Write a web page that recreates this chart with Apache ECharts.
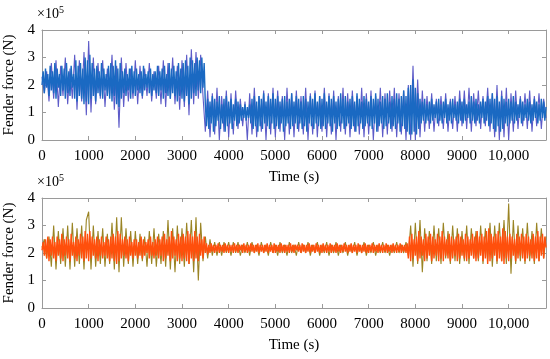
<!DOCTYPE html>
<html>
<head>
<meta charset="utf-8">
<script src="https://cdn.jsdelivr.net/npm/echarts@6/dist/echarts.min.js"></script>
<style>html,body{margin:0;padding:0;background:#fff}#c{width:550px;height:359px}</style>
</head>
<body>
<div id="c"></div>
<script>
// outer (peak) traces sampled every 50 s, inner (core) traces every 25 s; values in units of 1e5 N
const outerStep = 50;
const innerStep = 25;
const xTicks = [0,1000,2000,3000,4000,5000,6000,7000,8000,9000,10000];
const yTicks = [0,1,2,3,4];

const topOuter = [
2.3,1.7,2.5,1.4,2.8,1.5,2.9,1.2,2.7,1.6,3.0,1.3,2.6,1.5,3.1,1.1,2.9,1.4,3.2,0.9,
3.6,1.0,3.0,1.3,2.8,1.5,2.9,1.2,2.6,1.6,3.1,1.1,2.7,0.45,3.0,1.2,2.8,1.4,2.6,1.5,
2.9,1.3,2.7,1.5,2.6,1.6,2.8,1.4,2.5,1.5,2.7,1.3,2.9,1.2,2.8,1.5,3.0,1.3,2.7,1.1,
2.9,1.2,3.1,0.9,3.3,1.3,3.2,1.5,3.1,1.6,
0.3,1.8,0.1,1.7,0.2,1.9,0.0,1.6,0.3,1.8,
0.1,1.7,0.2,1.8,0.4,1.5,0.5,1.4,0.0,1.7,0.2,1.9,0.1,1.6,0.3,1.8,0.0,1.7,0.2,1.9,
0.1,1.8,0.3,1.6,0.0,1.9,0.2,1.7,0.1,1.8,0.3,1.6,0.2,1.9,0.0,1.7,0.2,1.8,0.1,1.6,
0.3,1.9,0.1,1.7,0.2,1.8,0.0,1.6,0.3,1.9,0.2,1.7,0.1,1.8,0.3,1.6,0.2,1.9,0.1,1.7,
0.2,1.8,0.0,1.6,0.3,1.9,0.1,1.7,0.2,1.8,0.3,1.9,0.1,1.7,0.2,1.8,0.0,2.0,0.0,2.7,
0.0,2.2,0.1,1.8,0.3,1.6,0.4,1.7,0.3,1.5,0.5,1.6,0.4,1.7,0.3,1.5,0.4,1.6,0.3,1.8,
0.5,1.8,0.4,1.9,0.3,1.7,0.5,1.8,0.4,1.6,0.5,1.9,0.3,1.7,0.1,2.0,0.0,1.8,0.1,1.9,
0.0,1.7,0.3,1.8,0.4,1.6,0.5,1.7,0.4,1.8,0.3,1.6,0.5,1.7,0.4,1.5,0.8
];
const topInner = [
2.0,2.5,1.7,2.6,1.9,2.4,1.6,2.7,1.8,2.5,1.7,2.8,1.5,2.6,1.9,2.4,1.6,2.7,1.8,2.6,
1.5,2.8,1.7,2.5,1.6,2.7,1.9,2.4,1.5,2.9,1.4,2.7,1.6,2.8,1.5,2.6,1.3,3.0,1.4,2.9,
1.3,3.1,1.5,2.8,1.6,2.6,1.4,2.7,1.7,2.5,1.6,2.8,1.5,2.6,1.8,2.4,1.6,2.7,1.5,2.8,
1.4,2.7,1.6,2.9,1.3,2.6,1.2,2.8,1.5,2.5,1.7,2.6,1.6,2.4,1.8,2.6,1.5,2.7,1.7,2.5,
1.6,2.6,1.8,2.4,1.7,2.5,1.6,2.7,1.8,2.4,1.9,2.5,1.7,2.6,1.6,2.4,1.8,2.5,1.7,2.7,
1.6,2.5,1.8,2.6,1.5,2.7,1.7,2.4,1.6,2.8,1.5,2.6,1.7,2.7,1.6,2.5,1.4,2.8,1.6,2.6,
1.5,2.8,1.4,2.9,1.6,2.7,1.3,3.0,1.5,2.9,1.7,2.8,1.6,3.0,1.8,2.9,1.7,3.0,1.9,2.8,
1.3,0.5,1.5,0.4,1.4,0.6,1.6,0.3,1.5,0.5,1.4,0.7,1.6,0.4,1.3,0.6,1.5,0.3,1.6,0.5,
1.4,0.6,1.5,0.4,1.3,0.7,1.5,0.5,1.4,0.6,1.3,0.7,1.2,0.8,1.3,0.7,1.2,0.8,1.3,0.6,
1.5,0.4,1.6,0.5,1.4,0.3,1.6,0.5,1.5,0.4,1.7,0.6,1.4,0.5,1.6,0.4,1.5,0.6,1.7,0.4,
1.5,0.5,1.6,0.4,1.4,0.6,1.5,0.3,1.6,0.5,1.4,0.6,1.5,0.4,1.7,0.5,1.4,0.6,1.6,0.4,
1.5,0.6,1.4,0.4,1.6,0.5,1.5,0.3,1.4,0.6,1.6,0.5,1.5,0.4,1.7,0.6,1.4,0.5,1.6,0.4,
1.5,0.5,1.7,0.4,1.4,0.6,1.6,0.5,1.5,0.3,1.6,0.6,1.4,0.4,1.5,0.5,1.7,0.6,1.5,0.4,
1.6,0.5,1.4,0.6,1.5,0.4,1.6,0.5,1.4,0.3,1.7,0.5,1.5,0.6,1.4,0.4,1.6,0.5,1.5,0.6,
1.4,0.5,1.6,0.4,1.5,0.6,1.7,0.3,1.5,0.5,1.4,0.6,1.6,0.4,1.5,0.5,1.7,0.6,1.4,0.4,
1.6,0.5,1.5,0.4,1.7,0.6,1.5,0.3,1.6,0.5,1.8,0.4,1.6,0.3,1.9,0.2,2.0,0.2,2.2,0.3,
1.9,0.2,1.7,0.4,1.5,0.6,1.4,0.7,1.5,0.6,1.3,0.7,1.4,0.6,1.5,0.7,1.3,0.8,1.4,0.6,
1.5,0.7,1.3,0.6,1.4,0.8,1.5,0.6,1.3,0.7,1.4,0.6,1.5,0.8,1.3,0.7,1.4,0.6,1.5,0.7,
1.4,0.6,1.5,0.7,1.3,0.8,1.4,0.6,1.6,0.7,1.4,0.6,1.5,0.7,1.3,0.6,1.4,0.8,1.5,0.6,
1.4,0.7,1.6,0.5,1.5,0.6,1.7,0.4,1.5,0.3,1.6,0.5,1.4,0.3,1.6,0.4,1.5,0.6,1.4,0.5,
1.5,0.6,1.4,0.7,1.6,0.6,1.4,0.7,1.3,0.8,1.5,0.6,1.4,0.7,1.3,0.8,1.5,0.7,1.4,0.6,
1.3,0.7,1.5,0.8,1.4,0.6,1.3,0.7,1.5,0.8,1.4,0.7,1.2
];
const bottomOuter = [
2.2,2.5,1.8,2.6,1.5,3.0,1.4,2.8,1.6,2.9,1.5,3.0,1.4,3.1,1.5,2.9,1.6,3.0,1.4,3.2,
3.5,1.4,3.0,1.5,2.8,1.6,2.9,1.5,2.7,1.6,3.1,1.4,3.3,1.3,3.3,1.5,2.9,1.6,2.8,1.5,
2.8,1.6,2.7,1.7,2.6,1.5,2.8,1.6,2.9,1.5,2.7,1.6,2.8,1.5,3.2,1.4,2.9,1.3,3.0,1.6,
2.9,1.5,3.1,1.6,3.2,1.3,3.3,1.0,3.1,1.7,
2.6,1.8,2.5,1.9,2.4,1.9,2.4,1.9,2.4,2.0,
2.4,1.9,2.4,2.0,2.4,1.9,2.3,2.0,2.4,1.9,2.4,2.0,2.3,1.9,2.4,2.0,2.3,1.9,2.4,2.0,
2.3,1.9,2.4,2.0,2.3,1.9,2.4,2.0,2.3,1.9,2.4,2.0,2.3,2.0,2.4,1.9,2.3,2.0,2.4,1.9,
2.3,2.0,2.4,1.9,2.3,2.0,2.4,1.9,2.3,2.0,2.4,1.9,2.3,2.0,2.4,1.9,2.3,2.0,2.4,1.9,
2.3,2.0,2.4,1.9,2.3,2.0,2.4,2.0,2.3,1.9,2.3,2.0,2.4,2.0,2.3,2.0,2.4,1.9,3.0,1.5,
3.1,1.6,3.2,1.3,2.9,1.7,2.8,1.6,3.0,1.7,2.9,1.6,3.1,1.8,2.8,1.6,3.0,1.7,2.9,1.6,
2.8,1.7,3.0,1.6,2.9,1.8,2.8,1.7,3.0,1.6,2.9,1.7,3.1,1.5,3.0,1.6,3.1,1.7,3.2,1.6,
3.8,1.25,3.2,1.6,3.0,1.7,2.9,1.6,3.1,1.7,2.8,1.6,3.1,1.7,2.9,1.8,2.6
];
const bottomInner = [
2.1,2.4,1.9,2.5,1.8,2.6,1.7,2.5,1.9,2.6,1.8,2.4,1.7,2.6,1.9,2.5,1.8,2.7,1.7,2.5,
1.9,2.6,1.8,2.5,1.7,2.7,1.9,2.4,1.8,2.6,1.7,2.5,1.9,2.7,1.8,2.6,1.7,2.8,1.8,2.7,
1.7,2.8,1.8,2.6,1.9,2.5,1.8,2.6,1.7,2.5,1.9,2.6,1.8,2.4,1.9,2.6,1.8,2.5,1.7,2.6,
1.8,2.7,1.7,2.6,1.6,2.8,1.7,2.7,1.8,2.5,1.9,2.6,1.8,2.5,1.7,2.6,1.9,2.4,1.8,2.5,
1.9,2.5,1.8,2.4,1.9,2.6,1.8,2.5,1.9,2.4,2.0,2.5,1.8,2.6,1.9,2.4,1.8,2.5,1.9,2.6,
1.8,2.5,1.9,2.6,1.7,2.7,1.8,2.5,1.9,2.6,1.7,2.8,1.8,2.6,1.9,2.5,1.7,2.7,1.8,2.6,
1.7,2.7,1.8,2.6,1.7,2.8,1.6,2.7,1.8,2.6,1.7,2.8,1.8,2.6,1.7,2.7,1.9,2.5,1.8,2.6,
2.0,2.35,1.95,2.3,2.0,2.35,2.05,2.3,2.0,2.3,2.05,2.35,2.0,2.3,2.05,2.3,2.0,2.35,2.05,2.3,
2.0,2.3,2.05,2.3,2.0,2.35,2.05,2.3,2.0,2.3,2.1,2.3,2.0,2.35,2.05,2.3,2.0,2.3,2.05,2.35,
2.05,2.3,2.0,2.3,2.05,2.35,2.0,2.3,2.05,2.3,2.0,2.3,2.05,2.35,2.0,2.3,2.05,2.3,2.0,2.35,
2.0,2.3,2.05,2.3,2.0,2.35,2.05,2.3,2.0,2.3,2.05,2.3,2.0,2.35,2.05,2.3,2.0,2.3,2.1,2.3,
2.05,2.3,2.0,2.35,2.05,2.3,2.0,2.3,2.05,2.35,2.0,2.3,2.05,2.3,2.0,2.35,2.05,2.3,2.0,2.3,
2.0,2.35,2.05,2.3,2.0,2.3,2.05,2.35,2.0,2.3,2.05,2.3,2.0,2.35,2.05,2.3,2.0,2.3,2.05,2.35,
2.05,2.3,2.0,2.3,2.05,2.35,2.0,2.3,2.05,2.3,2.0,2.35,2.05,2.3,2.0,2.3,2.05,2.35,2.0,2.3,
2.0,2.3,2.05,2.35,2.0,2.3,2.05,2.3,2.0,2.35,2.05,2.3,2.0,2.3,2.05,2.35,2.0,2.3,2.05,2.3,
2.0,2.35,2.05,2.3,2.0,2.3,2.05,2.35,2.0,2.3,2.05,2.3,2.0,2.35,
1.8,2.6,1.7,2.7,1.8,2.5,1.9,2.6,1.7,2.8,1.8,2.6,1.9,2.5,1.7,2.7,1.8,2.6,1.9,2.7,
1.7,2.6,1.8,2.5,1.9,2.7,1.7,2.6,1.8,2.8,1.7,2.6,1.9,2.5,1.8,2.7,1.7,2.6,1.8,2.5,
1.9,2.6,1.7,2.7,1.8,2.6,1.9,2.5,1.8,2.7,1.7,2.6,1.8,2.5,1.9,2.7,1.8,2.6,1.7,2.8,
1.8,2.6,1.9,2.7,1.7,2.6,1.8,2.8,1.6,2.9,1.7,2.7,1.8,2.6,1.9,2.7,1.7,2.8,1.8,2.6,
1.7,2.9,1.6,2.8,1.8,2.6,1.7,2.7,1.8,2.6,1.9,2.5,1.7,2.7,1.8,2.6,1.9,2.7,1.8,2.6,
1.7,2.7,1.8,2.6,1.9,2.5,1.8,2.7,1.7,2.6,1.8,2.8,1.7,2.6,1.9,2.7,1.8,2.6,2.2
];

function pairs(arr, step){ return arr.map((v,i)=>[i*step, v]); }

const FONT = '"Liberation Serif","Times New Roman",serif';
const axisGray = '#9a9a9a';
const xMax = 10800;

function fmtX(v){
  if (xTicks.indexOf(v) < 0) return '';
  return v >= 10000 ? String(v).replace(/\B(?=(\d{3})+(?!\d))/g, ',') : String(v);
}

function makeX(gi, top){
  return {
    type:'value', gridIndex:gi, min:0, max:xMax, interval:1000,
    position: top ? 'top' : 'bottom',
    name: top ? '' : 'Time (s)', nameLocation:'middle', nameGap:30,
    nameTextStyle:{fontFamily:FONT, fontSize:15, color:'#000'},
    axisLine:{show:true, onZero:false, lineStyle:{color:axisGray, width:1}},
    axisTick:{show:true, inside:true, length:4, lineStyle:{color:axisGray}},
    axisLabel:{show:!top, fontFamily:FONT, fontSize:15, color:'#000', margin:9, showMaxLabel:false, formatter:fmtX},
    splitLine:{show:false}
  };
}
function makeY(gi, right){
  return {
    type:'value', gridIndex:gi, min:0, max:4, interval:1,
    position: right ? 'right' : 'left',
    name: right ? '' : 'Fender force (N)', nameLocation:'middle', nameGap:22,
    nameTextStyle:{fontFamily:FONT, fontSize:15, color:'#000'},
    axisLine:{show:true, onZero:false, lineStyle:{color:axisGray, width:1}},
    axisTick:{show:true, inside:true, length:4, lineStyle:{color:axisGray}},
    axisLabel:{show:!right, fontFamily:FONT, fontSize:15, color:'#000', margin:7,
      formatter:v=> yTicks.indexOf(v)>=0 ? String(v) : ''},
    splitLine:{show:false}
  };
}
function line(xi, data, step, color, w){
  return {type:'line', xAxisIndex:xi, yAxisIndex:xi, data:pairs(data, step), showSymbol:false, symbol:'none',
    lineStyle:{color:color, width:w}, animation:false, silent:true, sampling:null};
}

const chart = echarts.init(document.getElementById('c'), null, {renderer:'canvas'});
chart.setOption({
  backgroundColor:'#fff',
  animation:false,
  grid:[
    {left:42, right:4, top:30, height:110, outerBoundsMode:'none', containLabel:false},
    {left:42, right:4, top:198, height:110, outerBoundsMode:'none', containLabel:false}
  ],
  xAxis:[makeX(0,false), makeX(1,false), makeX(0,true), makeX(1,true)],
  yAxis:[makeY(0,false), makeY(1,false), makeY(0,true), makeY(1,true)],
  series:[
    line(0, topOuter, outerStep, '#5d5bc8', 1.1),
    line(0, topInner, innerStep, '#1a69c2', 1.4),
    line(1, bottomOuter, outerStep, '#9a8424', 1.1),
    line(1, bottomInner, innerStep, '#ff4f0c', 1.4)
  ],
  graphic:[
    {type:'text', left:37, top:5, style:{text:'{a|×10}{b|5}', rich:{a:{fontFamily:FONT, fontSize:14, fill:'#000'}, b:{fontFamily:FONT, fontSize:10, fill:'#000', verticalAlign:'top', padding:[0,0,8,0]}}}},
    {type:'text', left:37, top:173, style:{text:'{a|×10}{b|5}', rich:{a:{fontFamily:FONT, fontSize:14, fill:'#000'}, b:{fontFamily:FONT, fontSize:10, fill:'#000', verticalAlign:'top', padding:[0,0,8,0]}}}}
  ]
});
</script>
</body>
</html>
